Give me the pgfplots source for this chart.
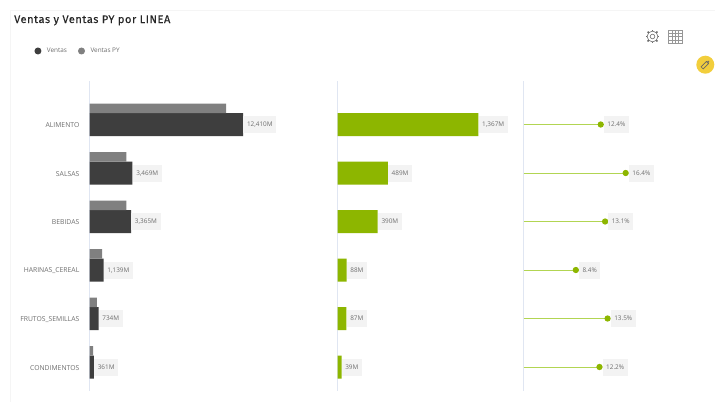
\documentclass[border=0pt]{standalone}
\usepackage{fontspec}
\usepackage{pgfplots}
\usepackage{pgfplotstable}
\pgfplotsset{compat=1.18}
\setmainfont{Open Sans}
\newfontfamily\titlefont[LetterSpace=5,FakeBold=0.25]{Fira Sans}
\definecolor{dark}{HTML}{3E3E3E}
\definecolor{midg}{HTML}{808080}
\definecolor{lime}{HTML}{8DB600}
\definecolor{stemc}{HTML}{B2D552}
\definecolor{axisc}{HTML}{E0E6F2}
\definecolor{labelbg}{HTML}{F3F3F3}
\definecolor{labeltx}{HTML}{6E6E6E}
\definecolor{icon}{HTML}{6A6A6A}
\pgfplotstableread{
row ventas py margen pct
0 12410 11037 1367 12.4
1 3469 2987 489 16.4
2 3365 2987 390 13.1
3 1139 1022 88 8.4
4 734 592 87 13.5
5 361 298 39 12.2
}\datatable
\pgfplotsset{
  panel/.style={
    scale only axis, height=310pt, anchor=south west,
    y dir=reverse, ymin=-0.897, ymax=5.495, xmin=0,
    enlargelimits=false, clip=false,
    axis x line=none, axis y line=left,
    axis line style={-,color=axisc,line width=1pt},
    y axis line style={color=axisc},
    major tick length=0pt,
    ytick={0,...,5},
    /pgf/number format/assume math mode=true,
  },
  vlabel/.style={
    nodes near coords style={
      anchor=west, fill=labelbg, text=labeltx, font=\fontsize{6.4pt}{7pt}\selectfont,
      inner xsep=3.6pt, inner ysep=0pt, text height=5pt, text depth=1pt,
      minimum height=17pt, xshift=#1},
  },
}
\begin{document}
\begin{tikzpicture}[x=1pt,y=1pt]
\useasboundingbox (0,0) rectangle (715,-402);
\fill[white] (0,0) rectangle (715,-402);
\draw[color=black!4,line width=1pt] (10,-402) -- (10,-10) -- (715,-10);
\node[anchor=base west,inner sep=0pt,text=black!85,font=\titlefont\fontsize{11pt}{12pt}\selectfont] at (14,-23) {Ventas y Ventas PY por LINEA};

% panel 1
\begin{axis}[panel, at={(89.5pt,-391pt)}, width=248pt, xmax=20024, xbar,
  ytick={0,...,5},
  yticklabels={ALIMENTO,SALSAS,BEBIDAS,HARINAS\_CEREAL,FRUTOS\_SEMILLAS,CONDIMENTOS},
  yticklabel style={text=labeltx,font=\fontsize{6.8pt}{7pt}\selectfont,inner sep=0pt},
  y tick label style={xshift=-10pt,yshift=-1pt},
  legend style={draw=none,fill=none,at={(axis description cs:-0.2228,1.0968)},anchor=west,
    legend columns=2,inner sep=0pt,font=\fontsize{6.4pt}{7pt}\selectfont,text=labeltx,
    /tikz/every even column/.append style={column sep=9pt}},
  legend image code/.code={\fill[#1] (3.5pt,0pt) circle (3.5pt);\path[draw=none,fill=none] (0pt,0pt) rectangle (10.5pt,1pt);},
  legend cell align=left,
]
\addplot[fill=dark,draw=none,bar width=23pt,bar shift=0pt,vlabel=0pt,
  nodes near coords={\pgfmathprintnumber[fixed,precision=0,1000 sep={,}]{\pgfplotspointmeta}M},point meta=x]
  table[x=ventas,y=row]{\datatable};
\addlegendentry{Ventas}
\addplot[fill=midg,draw=none,bar width=9.5pt,bar shift=16.25pt]
  table[x=py,y=row]{\datatable};
\addlegendentry{Ventas PY}
\end{axis}

% panel 2
\begin{axis}[panel, at={(337.5pt,-391pt)}, width=186pt, xmax=1804, xbar, yticklabels={}]
\addplot[fill=lime,draw=none,bar width=23pt,bar shift=0pt,vlabel=0pt,
  nodes near coords={\pgfmathprintnumber[fixed,precision=0,1000 sep={,}]{\pgfplotspointmeta}M},point meta=x]
  table[x=margen,y=row]{\datatable};
\end{axis}

% panel 3
\begin{axis}[panel, at={(523.5pt,-391pt)}, width=190pt, xmax=30.5, yticklabels={}]
\addplot[xcomb,color=stemc,line width=1pt,mark=*,mark size=2.6pt,
  mark options={fill=lime,draw=lime},vlabel=2.6pt,
  nodes near coords={\pgfmathprintnumber[fixed,fixed zerofill,precision=1]{\pgfplotspointmeta}\%},point meta=x]
  table[x=pct,y=row]{\datatable};
\end{axis}

% toolbar icons
\begin{scope}[shift={(652.5,-36.5)},line width=0.6pt]
  \foreach \a in {0,45,...,315}{\draw[icon,line width=1.6pt] (\a:5.3) -- (\a:6.9);}
  \fill[white] (0,0) circle (4.9);
  \draw[icon] (0,0) circle (5.4);
  \draw[icon] (0,0) circle (2.3);
\end{scope}
\begin{scope}[shift={(668.5,-43.5)}]
  \draw[color=icon!70,line width=0.6pt,step=3.4] (0,0) grid (13.6,13.6);
\end{scope}
\fill[color={rgb,255:red,242;green,206;blue,60}] (705.3,-64.7) circle (9);
\begin{scope}[shift={(705.3,-64.7)},rotate=45]
  \draw[color=black!60,line width=0.6pt,fill=none] (-4.5,-1.5) rectangle (3,1.5);
  \draw[color=black!60,line width=0.6pt] (3,1.5) -- (5,0) -- (3,-1.5);
\end{scope}
\end{tikzpicture}
\end{document}
